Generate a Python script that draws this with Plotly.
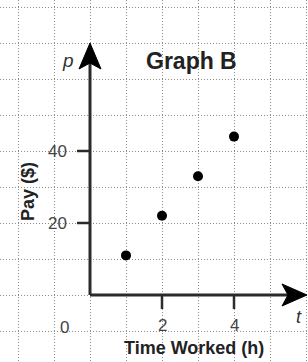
import plotly.graph_objects as go

# Data
hours = [1, 2, 3, 4]
pay = [11, 22, 33, 44]
x_tick_vals = [2, 4]
x_tick_text = ["2", "4"]
y_tick_vals = [20, 40]
y_tick_text = ["20", "40"]
title_text = "Graph B"
x_title = "Time Worked (h)"
y_title = "Pay ($)"

W, H = 308, 362
# pixel mapping: origin at (90, 295); 36 px per hour, 3.6 px per dollar
X0PX, Y0PX, XS, YS = 90, 295, 36.0, 3.6
xr = [(0 - X0PX) / XS, (W - X0PX) / XS]
yr = [(Y0PX - H) / YS, (Y0PX - 0) / YS]

def px2x(px):
    return (px - X0PX) / XS

def py2y(py):
    return (Y0PX - py) / YS

AX = "#2b2b2b"
fig = go.Figure()
fig.add_trace(go.Scatter(x=hours, y=pay, mode="markers",
                         marker=dict(color="black", size=10),
                         showlegend=False, hoverinfo="skip"))

shapes = []
# axes lines
shapes.append(dict(type="line", xref="x", yref="y", x0=0, y0=0, x1=0, y1=py2y(62),
                   line=dict(color=AX, width=3)))
shapes.append(dict(type="line", xref="x", yref="y", x0=0, y0=0, x1=px2x(290), y1=0,
                   line=dict(color=AX, width=3)))
# arrowheads
vp = (f"M {px2x(90)},{py2y(43)} L {px2x(79)},{py2y(69)} L {px2x(90)},{py2y(63)} "
      f"L {px2x(101)},{py2y(69)} Z")
shapes.append(dict(type="path", xref="x", yref="y", path=vp,
                   fillcolor="black", line=dict(color="black", width=1)))
hp = (f"M {px2x(307)},{py2y(295)} L {px2x(282)},{py2y(284)} L {px2x(288)},{py2y(295)} "
      f"L {px2x(282)},{py2y(306)} Z")
shapes.append(dict(type="path", xref="x", yref="y", path=hp,
                   fillcolor="black", line=dict(color="black", width=1)))
# tick marks
for v in y_tick_vals:
    shapes.append(dict(type="line", xref="x", yref="y", x0=px2x(77), x1=0, y0=v, y1=v,
                       line=dict(color=AX, width=2.5)))
for v in x_tick_vals:
    shapes.append(dict(type="line", xref="x", yref="y", x0=v, x1=v, y0=0, y1=py2y(309),
                       line=dict(color=AX, width=2.5)))

annotations = []
lab_font = dict(family="Liberation Sans, Arial", size=17, color="#444")
for v, t in zip(y_tick_vals, y_tick_text):
    annotations.append(dict(x=px2x(57), y=v, xref="x", yref="y", text=t, showarrow=False,
                            font=lab_font, xanchor="center", yanchor="middle"))
for v, t in zip(x_tick_vals, x_tick_text):
    annotations.append(dict(x=v, y=py2y(325), xref="x", yref="y", text=t, showarrow=False,
                            font=lab_font, xanchor="center", yanchor="middle"))
annotations.append(dict(x=px2x(64), y=py2y(327), xref="x", yref="y", text="0", showarrow=False,
                        font=lab_font, xanchor="center", yanchor="middle"))
annotations.append(dict(x=px2x(68), y=py2y(60), xref="x", yref="y", text="<i>p</i>", showarrow=False,
                        font=dict(family="Liberation Sans, Arial", size=19, color="#333"),
                        xanchor="center", yanchor="middle"))
annotations.append(dict(x=px2x(299), y=py2y(317), xref="x", yref="y", text="<i>t</i>", showarrow=False,
                        font=dict(family="Liberation Sans, Arial", size=18, color="#333"),
                        xanchor="center", yanchor="middle"))
annotations.append(dict(x=px2x(191), y=py2y(61), xref="x", yref="y", text=f"<b>{title_text}</b>",
                        showarrow=False, font=dict(family="Liberation Sans, Arial", size=23, color="#222"),
                        xanchor="center", yanchor="middle"))
annotations.append(dict(x=px2x(194), y=py2y(348), xref="x", yref="y", text=f"<b>{x_title}</b>",
                        showarrow=False, font=dict(family="Liberation Sans, Arial", size=18, color="#222"),
                        xanchor="center", yanchor="middle"))
annotations.append(dict(x=px2x(28), y=py2y(192), xref="x", yref="y", text=f"<b>{y_title}</b>",
                        showarrow=False, textangle=-90,
                        font=dict(family="Liberation Sans, Arial", size=18, color="#222"),
                        xanchor="center", yanchor="middle"))

grid = dict(showgrid=True, gridcolor="#8c8c8c", gridwidth=1, griddash="1px,2px",
            zeroline=False, showline=False, showticklabels=False, ticks="")
fig.update_layout(
    width=W, height=H, margin=dict(l=0, r=0, t=0, b=0),
    paper_bgcolor="white", plot_bgcolor="white",
    xaxis=dict(range=xr, tick0=0, dtick=1, fixedrange=True, **grid),
    yaxis=dict(range=yr, tick0=0, dtick=10, fixedrange=True, **grid),
    shapes=shapes, annotations=annotations,
)
fig.write_html("out.html", config={"displayModeBar": False},
               post_script="document.body.style.margin='0';document.body.style.overflow='hidden';")
